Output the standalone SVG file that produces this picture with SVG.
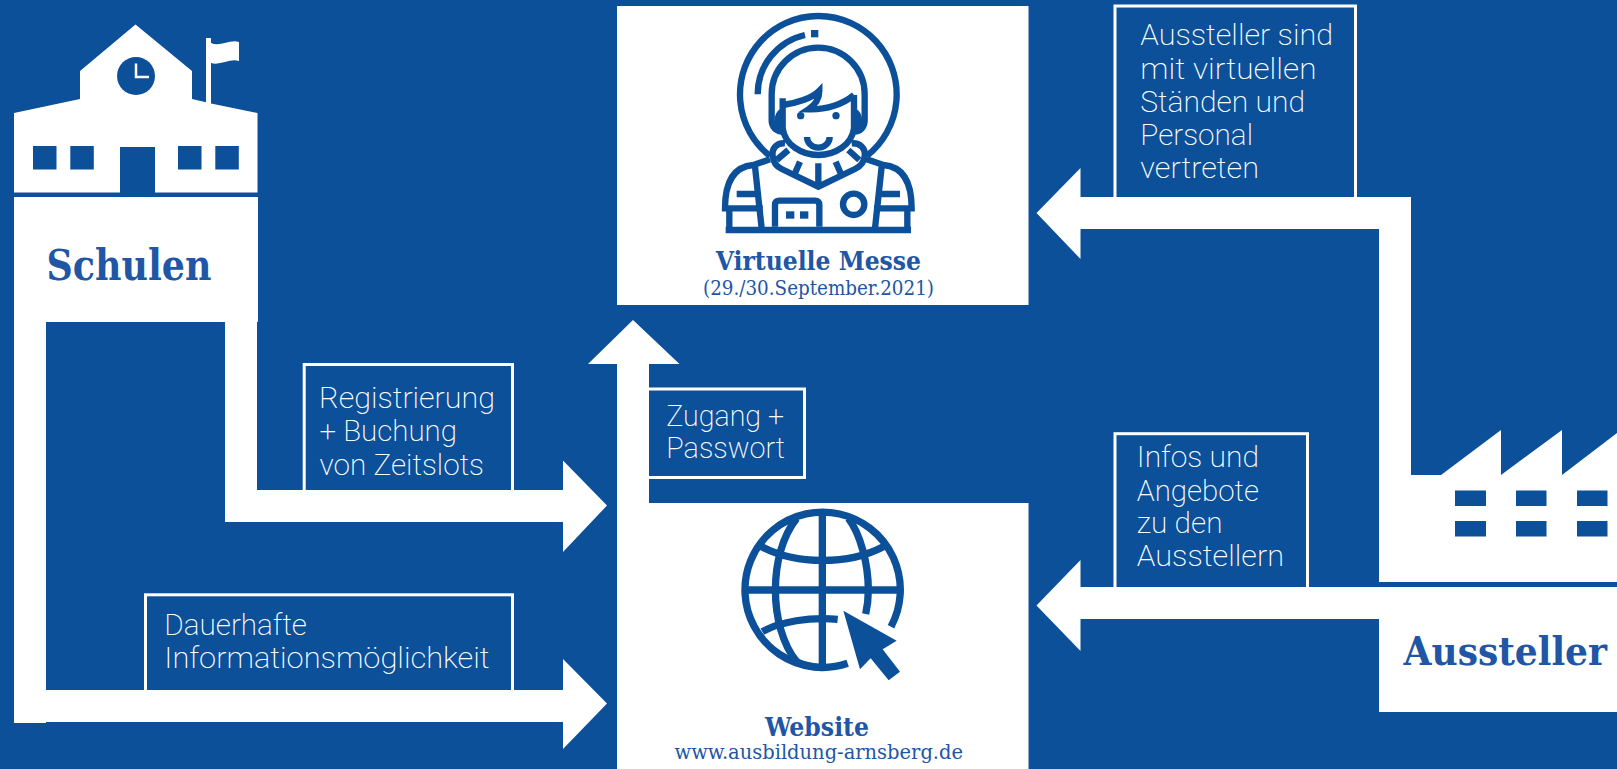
<svg xmlns="http://www.w3.org/2000/svg" width="1617" height="769" viewBox="0 0 1617 769">
<style>
.bg{fill:#0b5099}
.w{fill:#fff}
.box{fill:none;stroke:#fff;stroke-width:3}
.t{font-family:"Roboto","Liberation Sans",sans-serif;font-weight:200;font-size:29.500px;fill:#fff}
.h{font-family:"DejaVu Serif Condensed","DejaVu Serif",serif;font-weight:700;fill:#2056a5}
.s{font-family:"DejaVu Serif Condensed","DejaVu Serif",serif;font-weight:400;fill:#2056a5}
.ic{fill:none;stroke:#0b5099;stroke-width:19}
.bf{fill:#0b5099}
</style>
<rect class="bg" width="1617" height="769"/>

<g id="label-registrierung">
<rect class="box" x="304.200" y="364.500" width="208.300" height="135"/>
<text class="t" x="319" y="408.200" textLength="176" lengthAdjust="spacingAndGlyphs">Registrierung</text>
<text class="t" x="319.500" y="441.400" textLength="137.500" lengthAdjust="spacingAndGlyphs">+ Buchung</text>
<text class="t" x="319.500" y="474.700" textLength="164.500" lengthAdjust="spacingAndGlyphs">von Zeitslots</text>
</g>
<g id="label-dauerhaft">
<rect class="box" x="145.500" y="594.800" width="367" height="105"/>
<text class="t" x="164.300" y="634.700" textLength="142.700" lengthAdjust="spacingAndGlyphs">Dauerhafte</text>
<text class="t" x="164.300" y="668.400" textLength="325.200" lengthAdjust="spacingAndGlyphs">Informationsmöglichkeit</text>
</g>
<g id="label-zugang">
<rect class="box" x="640" y="389" width="164.500" height="88.500"/>
<text class="t" x="666.300" y="425.700" textLength="117.700" lengthAdjust="spacingAndGlyphs">Zugang +</text>
<text class="t" x="666.300" y="458.400" textLength="118.700" lengthAdjust="spacingAndGlyphs">Passwort</text>
</g>
<g id="label-stand">
<rect class="box" x="1115" y="6" width="240.500" height="200"/>
<text class="t" x="1140.300" y="45.400" textLength="192.700" lengthAdjust="spacingAndGlyphs">Aussteller sind</text>
<text class="t" x="1140.300" y="78.700" textLength="176.200" lengthAdjust="spacingAndGlyphs">mit virtuellen</text>
<text class="t" x="1140.300" y="111.700" textLength="164.700" lengthAdjust="spacingAndGlyphs">Ständen und</text>
<text class="t" x="1140.300" y="144.700" textLength="112.700" lengthAdjust="spacingAndGlyphs">Personal</text>
<text class="t" x="1140.300" y="177.700" textLength="118.700" lengthAdjust="spacingAndGlyphs">vertreten</text>
</g>
<g id="label-infos">
<rect class="box" x="1115" y="433.700" width="192.500" height="165"/>
<text class="t" x="1136.800" y="467.400" textLength="122.200" lengthAdjust="spacingAndGlyphs">Infos und</text>
<text class="t" x="1136.800" y="500.500" textLength="122.200" lengthAdjust="spacingAndGlyphs">Angebote</text>
<text class="t" x="1136.800" y="533.400" textLength="85.700" lengthAdjust="spacingAndGlyphs">zu den</text>
<text class="t" x="1136.800" y="566.400" textLength="147.200" lengthAdjust="spacingAndGlyphs">Ausstellern</text>
</g>

<g id="connectors">
<polygon class="w" points="14,322 46,322 46,690 563,690 563,659 607,703.500 563,749 563,722 46,722 46,723 14,723"/>
<polygon class="w" points="225,322 257,322 257,490 563,490 563,460.500 607,505.500 563,552 563,522 225,522"/>
<polygon class="w" points="617,503 617,364 588,364 633,320 679.500,364 649,364 649,503"/>
<polygon class="w" points="1411,476 1411,197 1080.500,197 1080.500,168 1036.500,213 1080.500,259 1080.500,229 1379,229 1379,476"/>
<polygon class="w" points="1380,587 1080.500,587 1080.500,560 1036.500,605.500 1080.500,651 1080.500,619 1380,619"/>
</g>

<g id="schulen">
<path class="w" d="M135.500,24.500L192,71V99L206,102.300V38H211V43C220,47 230,39 239,42V61C230,58 220,66 211,63V103.500L257.500,113V192.500H155V147H120V192.500H14V113L80,99V71Z"/>
<circle class="bf" cx="136" cy="76" r="19"/>
<path d="M136,63.500V77H149" fill="none" stroke="#fff" stroke-width="2.500"/>
<rect class="bf" x="33" y="146" width="23.500" height="23.500"/>
<rect class="bf" x="70.300" y="146" width="23.500" height="23.500"/>
<rect class="bf" x="178" y="146" width="23.500" height="23.500"/>
<rect class="bf" x="215.300" y="146" width="23.500" height="23.500"/>
<rect class="w" x="14" y="197" width="244" height="125"/>
<text class="h" x="46.500" y="279.500" font-size="42" textLength="165" lengthAdjust="spacingAndGlyphs">Schulen</text>
</g>

<g id="virtuelle-messe">
<rect class="w" x="617" y="6" width="411.500" height="299"/>
<g transform="translate(690 0) scale(.33333)">
<path class="ic" d="M240,468A235,235 0 1 1 530,468"/>
<path class="ic" d="M203,283A182,182 0 0 1 345,105"/>
<rect class="bf" x="363" y="90" width="22" height="22"/>
<path class="ic" d="M275,395C255,392 245,378 245,360V283A139.500,140 0 0 1 524,283V360C524,378 515,392 495,395"/>
<path class="ic" d="M278,335C258,340 258,385 278,388M492,335C512,340 512,385 492,388"/>
<path class="ic" d="M278,295V385C285,435 335,465 385,465C435,465 485,435 492,385V285"/>
<path class="ic" d="M278,315C320,310 365,295 388,272C388,295 375,315 355,328C410,330 460,312 492,285"/>
<circle class="bf" cx="332" cy="347" r="11"/>
<circle class="bf" cx="438" cy="347" r="11"/>
<path class="ic" d="M351,411A34,32 0 0 0 419,411"/>
<path class="ic" d="M285,430C260,428 245,445 248,468C250,490 260,500 275,507L385,560L495,507C510,500 522,490 524,468C527,445 510,428 485,430"/>
<path class="ic" d="M295,450L260,480M330,485L315,520M385,490V555M437,485L452,520M475,450L508,480"/>
<path class="ic" d="M240,478L190,495C130,500 105,550 105,625H218M530,478L580,495C640,500 665,550 665,625H552"/>
<path class="ic" d="M195,500L215,685M575,500L555,685M140,582H205M565,582H630M118,630V690M652,630V690M107,690H663"/>
<path class="ic" d="M255,680V615Q255,602 268,602H375Q388,602 388,615V680"/>
<rect class="bf" x="288" y="634" width="25" height="22"/>
<rect class="bf" x="330" y="634" width="25" height="22"/>
<circle class="ic" cx="491" cy="613" r="32"/>
</g>
<text class="h" x="715.700" y="270" font-size="26.500" textLength="205.300" lengthAdjust="spacingAndGlyphs">Virtuelle Messe</text>
<text class="s" x="703" y="295" font-size="21" textLength="231" lengthAdjust="spacingAndGlyphs">(29./30.September.2021)</text>
</g>

<g id="website">
<rect class="w" x="617" y="503" width="411.500" height="266"/>
<g transform="translate(700 490) scale(.33333)">
<g fill="none" stroke="#0b5099" stroke-width="22">
<path d="M573,410A233,233 0 1 0 443,520"/>
<path d="M367,67V533M134,300H600"/>
<path d="M290,85C205,190 205,410 290,515C310,525 335,530 367,533"/>
<path d="M445,85C480,130 505,220 505,300C505,325 502,350 497,372"/>
<path d="M185,170C290,225 445,225 550,170"/>
<path d="M187,425C240,395 330,380 413,388"/>
</g>
<polygon class="bf" points="430,362 590,452 548,478 600,545 566,571 512,505 480,538"/>
</g>
<text class="h" x="765" y="736" font-size="26.500" textLength="104" lengthAdjust="spacingAndGlyphs">Website</text>
<text class="s" x="674.500" y="759.300" font-size="20" textLength="288.500" lengthAdjust="spacingAndGlyphs">www.ausbildung-arnsberg.de</text>
</g>

<g id="aussteller">
<path class="w" d="M1379,475H1441L1501,430V475L1562,430V475L1617,433V582H1379Z"/>
<rect class="bf" x="1455" y="490.500" width="31" height="15.500"/>
<rect class="bf" x="1516" y="490.500" width="30.500" height="15.500"/>
<rect class="bf" x="1577" y="490.500" width="30.500" height="15.500"/>
<rect class="bf" x="1455" y="521" width="31" height="15.500"/>
<rect class="bf" x="1516" y="521" width="30.500" height="15.500"/>
<rect class="bf" x="1577" y="521" width="30.500" height="15.500"/>
<rect class="w" x="1379" y="587" width="238" height="125"/>
<text class="h" x="1403.500" y="665" font-size="40" textLength="203.500" lengthAdjust="spacingAndGlyphs">Aussteller</text>
</g>
</svg>
